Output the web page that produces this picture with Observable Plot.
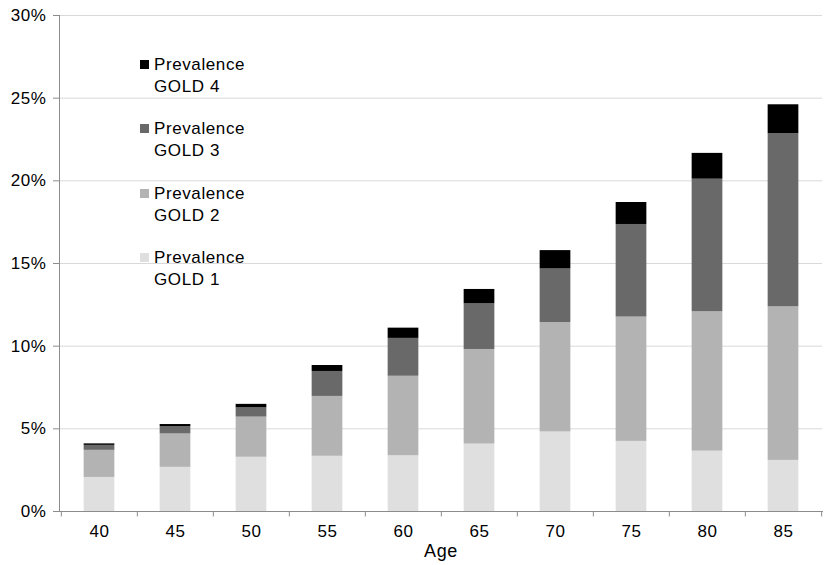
<!DOCTYPE html>
<html>
<head>
<meta charset="utf-8">
<script src="https://cdn.jsdelivr.net/npm/d3@7"></script>
<script src="https://cdn.jsdelivr.net/npm/@observablehq/plot@0.6"></script>
<style>
  html, body { margin: 0; padding: 0; background: #fff; }
  #wrap { position: relative; width: 838px; height: 565px; font-family: "Liberation Sans", Arial, sans-serif; }
  .leg { position: absolute; left: 140px; font-size: 17px; line-height: 22px; letter-spacing: 0.6px; color: #000; }
  .leg .sw { position: absolute; left: 0; top: 6px; width: 9px; height: 9px; }
  .leg .tx { margin-left: 14px; white-space: nowrap; }
</style>
</head>
<body>
<div id="wrap"></div>
<script>
const ages = [40, 45, 50, 55, 60, 65, 70, 75, 80, 85];
const gold1 = [2.06, 2.67, 3.28, 3.34, 3.37, 4.08, 4.81, 4.24, 3.65, 3.09];
const gold2 = [1.64, 2.02, 2.43, 3.62, 4.81, 5.72, 6.62, 7.52, 8.43, 9.29];
const gold3 = [0.30, 0.45, 0.56, 1.51, 2.29, 2.76, 3.24, 5.60, 8.02, 10.47];
const gold4 = [0.09, 0.12, 0.21, 0.36, 0.62, 0.87, 1.11, 1.33, 1.56, 1.75];
const series = ["Prevalence GOLD 1", "Prevalence GOLD 2", "Prevalence GOLD 3", "Prevalence GOLD 4"];
const colors = ["#dfdfdf", "#b3b3b3", "#696969", "#000000"];
const yTicks = [0, 5, 10, 15, 20, 25, 30];

const seriesValues = [gold1, gold2, gold3, gold4];
const rows = [];
series.forEach((s, i) => ages.forEach((a, j) => rows.push({age: a, series: s, value: seriesValues[i][j]})));

const step = (838 - 59 - 16) / ages.length;
const inset = (step - 31) / 2;
const axisGray = "#8c8c8c";

const chart = Plot.plot({
  width: 838,
  height: 565,
  marginLeft: 59,
  marginRight: 16,
  marginTop: 15,
  marginBottom: 54,
  style: {fontFamily: "Liberation Sans, Arial, sans-serif", fontSize: "17px", letterSpacing: "0.6px", color: "#000", background: "#fff"},
  x: {domain: ages, padding: 0},
  y: {domain: [0, 30]},
  color: {domain: series, range: colors},
  marks: [
    Plot.gridY(yTicks, {stroke: "#d9d9d9", strokeOpacity: 1}),
    Plot.barY(rows, {x: "age", y: "value", fill: "series", order: series, insetLeft: inset, insetRight: inset}),
    Plot.frame({anchor: "left", stroke: axisGray}),
    Plot.frame({anchor: "bottom", stroke: axisGray}),
    Plot.axisY(yTicks, {tickFormat: d => d + "%", tickSize: 6, tickPadding: 7, stroke: axisGray, label: null, fill: "#000"}),
    Plot.axisX({tickSize: 0, tickPadding: 13.5, label: null, fill: "#000"}),
    Plot.ruleX(ages, {x: d => d, dx: -step / 2, y1: 0, y2: -0.33, stroke: axisGray}),
    Plot.ruleX([ages[ages.length - 1]], {x: d => d, dx: step / 2, y1: 0, y2: -0.33, stroke: axisGray}),
    Plot.text(["Age"], {frameAnchor: "bottom", dy: 45, fill: "#000", fontSize: 18})
  ]
});

const wrap = document.getElementById("wrap");
wrap.appendChild(chart);

const legTops = [247, 182.5, 118, 53.5];
series.forEach((s, i) => {
  const d = document.createElement("div");
  d.className = "leg";
  d.style.top = legTops[i] + "px";
  const sw = document.createElement("div");
  sw.className = "sw";
  sw.style.background = colors[i];
  const tx = document.createElement("div");
  tx.className = "tx";
  const parts = s.split(" GOLD ");
  tx.innerHTML = parts[0] + "<br>GOLD " + parts[1];
  d.appendChild(sw);
  d.appendChild(tx);
  wrap.appendChild(d);
});
</script>
</body>
</html>
